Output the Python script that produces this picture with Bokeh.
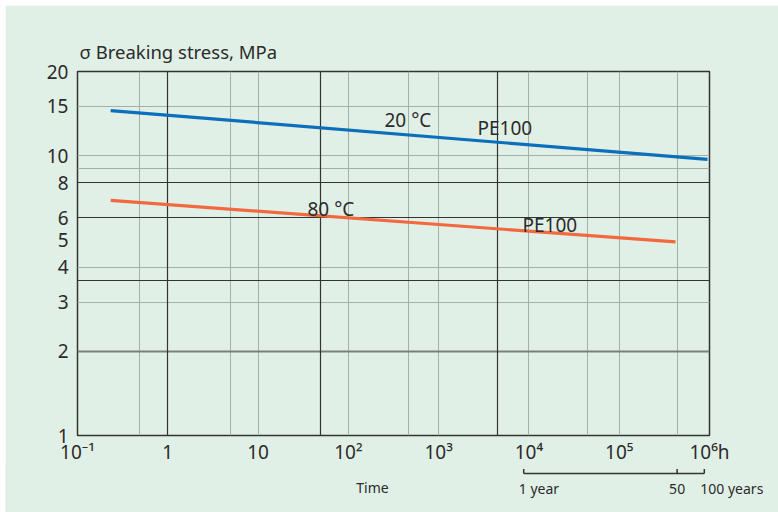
from bokeh.plotting import figure
from bokeh.models import FixedTicker, Grid, Label, Range1d
from bokeh.embed import file_html
from bokeh.resources import INLINE
from bokeh.core.properties import value

# ---- data ----
time_20C = [0.233, 9.5e5]
stress_20C = [14.5, 9.7]
time_80C = [0.233, 4.2e5]
stress_80C = [6.92, 4.92]

x_ticks = [0.1, 1, 10, 100, 1000, 10000, 100000, 1000000]
x_tick_labels = ["10⁻¹", "1", "10", "10²", "10³", "10⁴", "10⁵", "10⁶h"]
y_ticks = [1, 2, 3, 4, 5, 6, 8, 10, 15, 20]
y_tick_labels = ["1", "2", "3", "4", "5", "6", "8", "10", "15", "20"]

x_grid_light = [0.49, 4.9, 10, 100, 466, 1000, 10000, 44500, 100000, 437000]
x_grid_dark = [1, 49, 4470]
y_grid_light = [3, 4, 9, 10, 15]
y_grid_dark = [3.58, 6, 8]
y_grid_mid = [2]

year_ticks = [8760, 438000, 876000]          # hours in 1, 50, 100 years
year_labels = ["1 year", "50", "100 years"]

BG = "#e1f0e6"
TXT = "#2b2b2b"
FONT = "Noto Sans"

X_MIN, X_MAX = 0.1, 1e6
FRAME_L, FRAME_W = 72, 632      # main frame left / width in figure px

p = figure(width=773, height=462, x_axis_type="log", y_axis_type="log",
           x_range=Range1d(X_MIN, X_MAX), y_range=Range1d(1, 20),
           output_backend="svg", toolbar_location=None,
           min_border_left=FRAME_L, min_border_right=773 - FRAME_L - FRAME_W,
           min_border_top=66, min_border_bottom=30,
           background_fill_color=BG, border_fill_color=BG,
           outline_line_color="#333333", outline_line_width=1.5)
p.margin = (5, 0, 0, 5)
p.xgrid.visible = False
p.ygrid.visible = False

p.title.text = "σ Breaking stress, MPa"
p.title.align = "left"
p.title.offset = 2
p.title.standoff = 16
p.title.text_font = FONT
p.title.text_font_size = "18.5px"
p.title.text_font_style = "normal"
p.title.text_color = TXT

def add_grid(dim, ticks, color, width):
    p.add_layout(Grid(dimension=dim, ticker=FixedTicker(ticks=ticks),
                      grid_line_color=color, grid_line_width=width))

add_grid(0, x_grid_light, "#a3afa7", 1)
add_grid(1, y_grid_light, "#a3afa7", 1)
add_grid(1, y_grid_mid, "#7b807c", 2)
add_grid(0, x_grid_dark, "#333333", 1.2)
add_grid(1, y_grid_dark, "#333333", 1.2)

for ax, ticks, labels, standoff in ((p.xaxis[0], x_ticks, x_tick_labels, 3),
                                    (p.yaxis[0], y_ticks, y_tick_labels, 9)):
    ax.ticker = FixedTicker(ticks=ticks)
    ax.major_label_overrides = {t: l for t, l in zip(ticks, labels)}
    ax.major_tick_in = 0
    ax.major_tick_out = 0
    ax.minor_tick_line_color = None
    ax.axis_line_color = None
    ax.major_label_standoff = standoff
    ax.major_label_text_font = FONT
    ax.major_label_text_font_size = "19px"
    ax.major_label_text_color = TXT

p.line(time_20C, stress_20C, line_color="#0b6fbb", line_width=3.2)
p.line(time_80C, stress_80C, line_color="#f2693f", line_width=3.2)

def lab(text, x, y):
    p.add_layout(Label(text=text, x=x, y=y, x_units="screen", y_units="screen",
                       text_font=FONT, text_font_size="19px", text_color=TXT,
                       text_align="left", text_baseline="middle"))

lab("20 °C", 307, 316)
lab("PE100", 400, 308)
lab("80 °C", 230, 227)
lab("PE100", 445, 211)

# ---- strip below the axis: time label and year bracket, same x scale ----
# its frame spans the full strip width, with the same px-per-decade as the main frame
x_min2 = 10 ** (-1 - 7 * FRAME_L / FRAME_W)
x_max2 = 10 ** (-1 + 7 * (773 - FRAME_L) / FRAME_W)
p2 = figure(width=773, height=48, x_axis_type="log",
            x_range=Range1d(x_min2, x_max2), y_range=Range1d(45, -3),
            output_backend="svg", toolbar_location=None,
            x_axis_location=None, y_axis_location=None,
            min_border_left=0, min_border_right=0, min_border_top=0, min_border_bottom=0,
            background_fill_color=BG, border_fill_color=BG, outline_line_color=None)
p2.margin = (-3, 0, 0, 5)
p2.xgrid.visible = False
p2.ygrid.visible = False

p2.line(x=[year_ticks[0], year_ticks[-1]], y=[6, 6], line_color="#333333", line_width=1.5)
p2.segment(x0=year_ticks, y0=[6] * 3, x1=year_ticks, y1=[1.5] * 3,
           line_color="#333333", line_width=1.5)

def txt2(x, y, text, align, xo=0):
    p2.text(x=[x], y=[y], text=[text], x_offset=xo, text_align=align, text_baseline="middle",
            text_font=value(FONT), text_font_size="14px", text_color=TXT)

txt2(185, 20, "Time", "center")
txt2(year_ticks[0], 21, year_labels[0], "left", -5)
txt2(year_ticks[1], 21, year_labels[1], "center")
txt2(year_ticks[2], 21, year_labels[2], "left", -4)

open("out.html", "w").write(file_html([p, p2], INLINE))
